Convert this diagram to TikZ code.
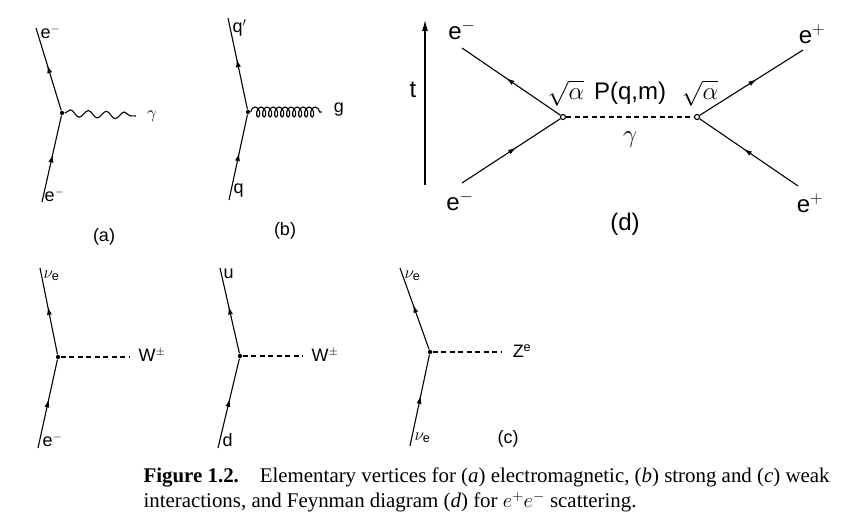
\documentclass[tikz,border=0pt]{standalone}
\usepackage{fontspec}
\setmainfont{Liberation Sans}
\newfontfamily\capfont{Liberation Serif}
\usetikzlibrary{decorations.markings,decorations.pathmorphing,arrows.meta}
\begin{document}
\begin{tikzpicture}[x=1pt,y=-1pt,line width=1.1pt,
  fer/.style={postaction={decorate},decoration={markings,mark=at position 0.55 with {\arrow{Latex[length=8pt,width=5pt]}}}},
  ferop/.style={postaction={decorate},decoration={markings,mark=at position 0.55 with {\arrow{Latex[open,length=8pt,width=5pt]}}}},
  bos/.style={dash pattern=on 5pt off 3.5pt},
  lab/.style={font=\fontsize{18}{20}\selectfont,inner sep=1pt},
  big/.style={font=\fontsize{24}{26}\selectfont,inner sep=1pt},
  dot/.style={circle,fill,inner sep=1.5pt},
  odot/.style={circle,draw,inner sep=1.8pt}]
\useasboundingbox (0,0) rectangle (865,526);
% (a)
\node[dot] (va) at (62,113) {};
\coordinate (at) at (36,28); \coordinate (ab) at (42,202);
\coordinate (ag) at (136,116);
\draw[fer] (ab) -- (va); \draw[fer] (va) -- (at);
\draw[decorate,decoration={snake,amplitude=3.5pt,segment length=18pt}] (va) -- (ag);
\node[lab,anchor=west] (lat) at (39,32) {e$^{-}$};
\node[lab,anchor=west] (lab) at (43,195) {e$^{-}$};
\node[lab] (lg) at (152,116) {$\gamma$};
\node[lab] (la) at (104,237) {(a)};
% (b)
\node[dot] (vb) at (248,112) {};
\coordinate (bt) at (228,18); \coordinate (bb) at (229,200); \coordinate (bg) at (322,112);
\draw[fer] (bb) -- (vb); \draw[fer] (vb) -- (bt);
\draw[decorate,decoration={coil,aspect=0.6,amplitude=5pt,segment length=6pt}] (vb) -- (bg);
\node[lab,anchor=west] (lbt) at (231,28) {q$'$};
\node[lab,anchor=west] (lbb) at (232,191) {q};
\node[lab] (lbg) at (339,110) {g};
\node[lab] (lb) at (285,231) {(b)};
% (d)
\coordinate (tb) at (425,185); \coordinate (tt) at (425,20);
\draw[-{Latex[length=11pt,width=6pt]}] (tb) -- (tt);
\node[big] (lt) at (413,90) {t};
\node[odot] (v1) at (563,117) {};
\node[odot] (v2) at (697,117) {};
\coordinate (d1) at (462,48); \coordinate (d2) at (462,183);
\coordinate (d3) at (803,50); \coordinate (d4) at (798,186);
\draw[ferop] (v1) -- (d1); \draw[ferop] (d2) -- (v1);
\draw[ferop] (v2) -- (d3); \draw[ferop] (d4) -- (v2);
\draw[bos] (v1) -- (v2);
\node[big] (e1) at (462,30) {e$^{-}$};
\node[big] (e2) at (460,201) {e$^{-}$};
\node[big] (e3) at (812,34) {e$^{+}$};
\node[big] (e4) at (810,203) {e$^{+}$};
\node[big] (s1) at (566,93) {$\sqrt{\alpha}$};
\node[big] (pq) at (630,93) {P(q,m)};
\node[big] (s2) at (700,93) {$\sqrt{\alpha}$};
\node[big] (gd) at (630,140) {$\gamma$};
\node[big] (ld) at (625,224) {(d)};
% (c1)
\node[dot] (c1) at (58,357) {};
\coordinate (c1t) at (40,268); \coordinate (c1b) at (38,448); \coordinate (c1w) at (130,357);
\draw[fer] (c1b) -- (c1); \draw[fer] (c1) -- (c1t); \draw[bos] (c1) -- (c1w);
\node[lab,anchor=west] at (42,276) {$\nu_{\mathrm e}$};
\node[lab,anchor=west] at (41,440) {e$^{-}$};
\node[lab] at (152,355) {W$^{\pm}$};
% (c2)
\node[dot] (c2) at (240,356) {};
\coordinate (c2t) at (220,268); \coordinate (c2b) at (218,448); \coordinate (c2w) at (303,356);
\draw[fer] (c2b) -- (c2); \draw[fer] (c2) -- (c2t); \draw[bos] (c2) -- (c2w);
\node[lab,anchor=west] at (222,274) {u};
\node[lab,anchor=west] at (221,440) {d};
\node[lab] at (325,355) {W$^{\pm}$};
% (c3)
\node[dot] (c3) at (430,352) {};
\coordinate (c3t) at (400,268); \coordinate (c3b) at (410,446); \coordinate (c3w) at (502,352);
\draw[fer] (c3b) -- (c3); \draw[fer] (c3) -- (c3t); \draw[bos] (c3) -- (c3w);
\node[lab,anchor=west] at (403,276) {$\nu_{\mathrm e}$};
\node[lab,anchor=west] at (413,438) {$\nu_{\mathrm e}$};
\node[lab] at (522,351) {Z$^{\mathrm e}$};
\node[lab] at (508,439) {(c)};
% caption
\node[anchor=west,inner sep=0pt,font=\capfont\fontsize{20.9}{24}\selectfont] (cap1) at (143,477) {\textbf{Figure 1.2.}\quad Elementary vertices for (\textit{a}) electromagnetic, (\textit{b}) strong and (\textit{c}) weak};
\node[anchor=west,inner sep=0pt,font=\capfont\fontsize{20.9}{24}\selectfont] (cap2) at (143,502) {interactions, and Feynman diagram (\textit{d}) for $e^{+}e^{-}$ scattering.};
\end{tikzpicture}
\end{document}
